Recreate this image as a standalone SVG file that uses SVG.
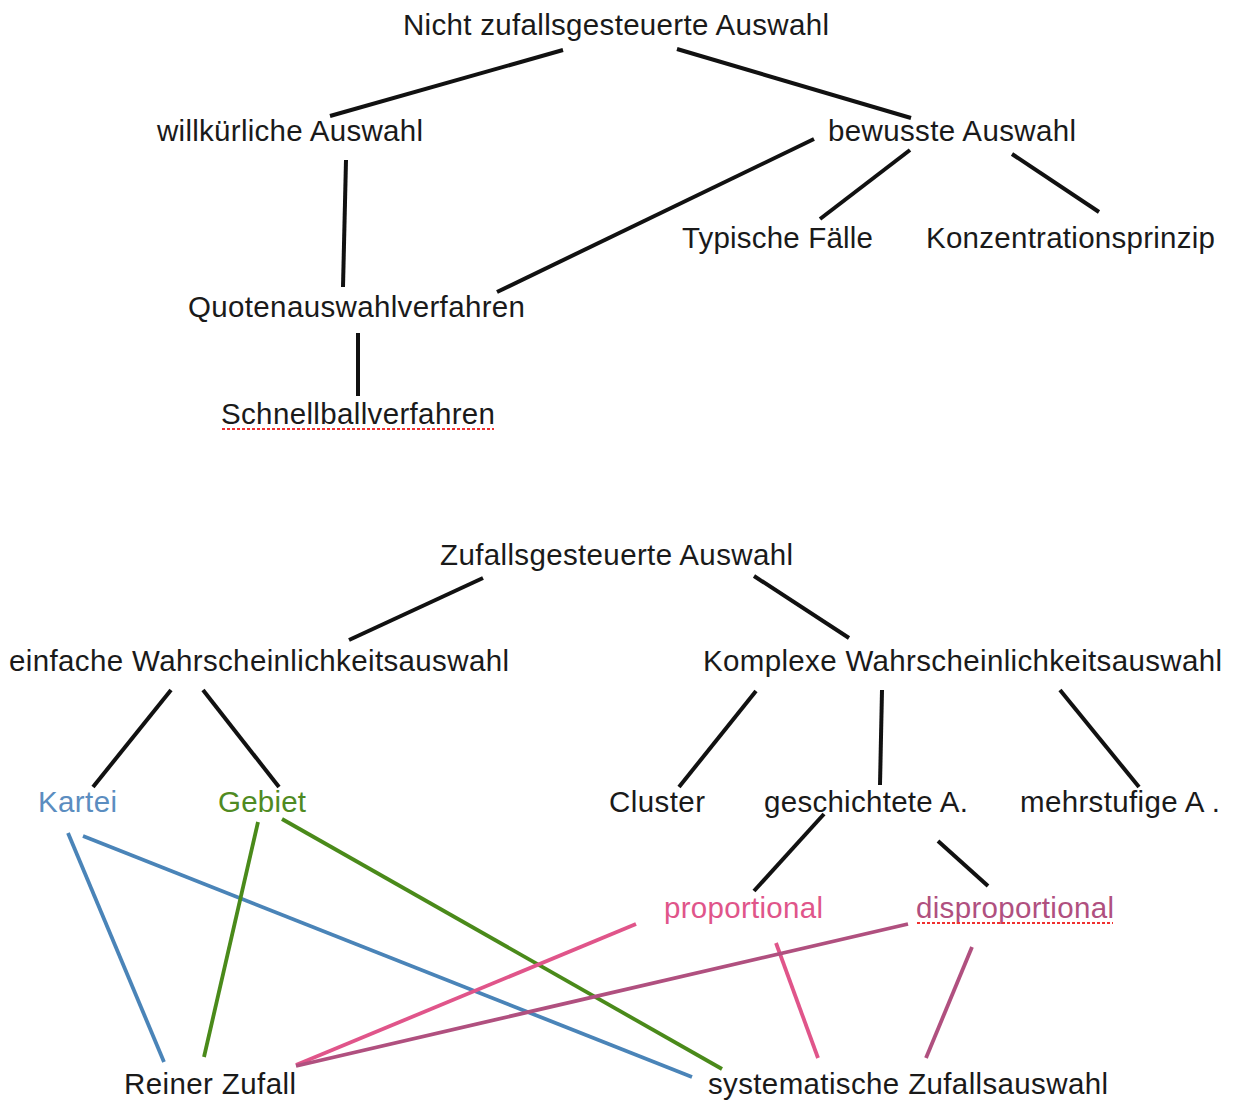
<svg xmlns="http://www.w3.org/2000/svg" width="1233" height="1102" viewBox="0 0 1233 1102">
<style>
text{font-family:"Liberation Sans",Arial,sans-serif;font-size:29.5px;fill:#1a1a1a}
.l{stroke:#111;stroke-width:4;fill:none;stroke-linecap:butt}
.blue{stroke:#4a84b8;stroke-width:3.8}
.green{stroke:#4a8a1a;stroke-width:3.8}
.pink{stroke:#e0558a;stroke-width:3.8}
.mauve{stroke:#b0507f;stroke-width:3.8}
.sq{stroke:#f03030;stroke-width:2;stroke-dasharray:3 2;fill:none}
</style>
<rect width="1233" height="1102" fill="#fff"/>
<g id="connectors">
<line class="l" x1="563" y1="50" x2="330" y2="116"/>
<line class="l" x1="677" y1="49" x2="911" y2="118"/>
<line class="l" x1="346" y1="160" x2="343" y2="287"/>
<line class="l" x1="814" y1="139" x2="497" y2="292"/>
<line class="l" x1="910" y1="150" x2="820" y2="219"/>
<line class="l" x1="1012" y1="154" x2="1099" y2="212"/>
<line class="l" x1="358" y1="333" x2="358" y2="396"/>
<line class="l" x1="483" y1="578" x2="349" y2="640"/>
<line class="l" x1="754" y1="576" x2="849" y2="638"/>
<line class="l" x1="171" y1="690" x2="93" y2="787"/>
<line class="l" x1="203" y1="690" x2="279" y2="787"/>
<line class="l" x1="756" y1="691" x2="679" y2="787"/>
<line class="l" x1="882" y1="690" x2="880" y2="785"/>
<line class="l" x1="1060" y1="690" x2="1139" y2="787"/>
<line class="l" x1="824" y1="814" x2="754" y2="891"/>
<line class="l" x1="938" y1="841" x2="988" y2="886"/>
<line class="l blue" x1="68" y1="833" x2="164" y2="1062"/>
<line class="l blue" x1="83" y1="836" x2="692" y2="1077"/>
<line class="l green" x1="258" y1="822" x2="204" y2="1057"/>
<line class="l green" x1="282" y1="819" x2="722" y2="1069"/>
<line class="l pink" x1="636" y1="924" x2="296" y2="1065"/>
<line class="l pink" x1="776" y1="943" x2="818" y2="1058"/>
<line class="l mauve" x1="908" y1="924" x2="296" y2="1066"/>
<line class="l mauve" x1="972" y1="947" x2="926" y2="1058"/>
</g>
<g id="n1"><text x="403" y="35" textLength="426">Nicht zufallsgesteuerte Auswahl</text></g>
<g id="n2"><text x="157" y="141" textLength="266">willkürliche Auswahl</text></g>
<g id="n3"><text x="828" y="141" textLength="248">bewusste Auswahl</text></g>
<g id="n4"><text x="682" y="248" textLength="191">Typische Fälle</text></g>
<g id="n5"><text x="926" y="248" textLength="289">Konzentrationsprinzip</text></g>
<g id="n6"><text x="188" y="317" textLength="337">Quotenauswahlverfahren</text></g>
<g id="n7"><text x="221" y="424" textLength="274">Schnellballverfahren</text><line class="sq" x1="222" y1="429" x2="494" y2="429"/></g>
<g id="n8"><text x="440" y="565" textLength="353">Zufallsgesteuerte Auswahl</text></g>
<g id="n9"><text x="9" y="671" textLength="500">einfache Wahrscheinlichkeitsauswahl</text></g>
<g id="n10"><text x="703" y="671" textLength="519">Komplexe Wahrscheinlichkeitsauswahl</text></g>
<g id="n11"><text x="38" y="812" textLength="79" style="fill:#5b8dc0">Kartei</text></g>
<g id="n12"><text x="218" y="812" textLength="88" style="fill:#4f8a22">Gebiet</text></g>
<g id="n13"><text x="609" y="812" textLength="96">Cluster</text></g>
<g id="n14"><text x="764" y="812" textLength="204">geschichtete A.</text></g>
<g id="n15"><text x="1020" y="812" textLength="200">mehrstufige A .</text></g>
<g id="n16"><text x="664" y="918" textLength="159" style="fill:#e0558a">proportional</text></g>
<g id="n17"><text x="916" y="918" textLength="198" style="fill:#b0507f">disproportional</text><line class="sq" x1="917" y1="923" x2="1113" y2="923"/></g>
<g id="n18"><text x="124" y="1094" textLength="172">Reiner Zufall</text></g>
<g id="n19"><text x="708" y="1094" textLength="400">systematische Zufallsauswahl</text></g>
</svg>
